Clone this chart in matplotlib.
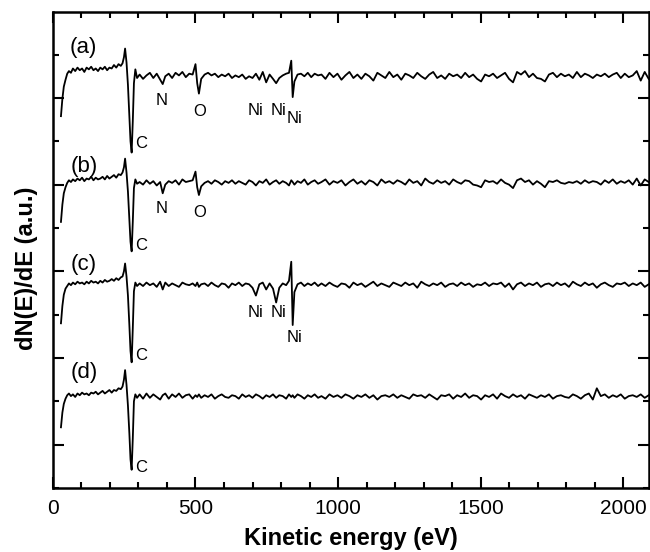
"""Auger spectra (dN/dE) of four samples, stacked."""

import matplotlib
matplotlib.use("Agg")
import matplotlib.pyplot as plt
from matplotlib.ticker import MultipleLocator

plt.rcParams["font.family"] = ["Liberation Sans", "DejaVu Sans"]

# kinetic energy grid (eV)
energy = [
    28, 33, 38, 44, 50, 56, 63, 70, 78, 86,
    94, 102, 110, 118, 126, 134, 142, 150, 158, 166,
    174, 182, 190, 198, 206, 214, 222, 230, 238, 244,
    249, 253, 258, 263, 268, 272, 276, 280, 284, 289,
    295,
    304, 316, 328, 340, 352, 364, 376, 385, 394, 406,
    418, 430, 442, 454, 466, 478, 490, 500, 506, 512,
    520, 532, 544, 556, 568, 580, 592, 604, 616, 628,
    640, 652, 664, 676, 688, 700, 712, 724, 736, 748,
    760, 772, 783, 794, 806, 818, 828, 836, 841, 847,
    858, 870, 882, 894, 906, 918, 930,
    942, 956, 970, 984, 998, 1012, 1026, 1040, 1054, 1068,
    1082, 1096, 1110, 1124, 1138, 1152, 1166, 1180, 1194, 1208,
    1222, 1236, 1250, 1264, 1278, 1292, 1306, 1320, 1334, 1348,
    1362, 1376, 1390, 1404, 1418, 1432, 1446, 1460, 1474, 1488,
    1502, 1516, 1530, 1544, 1558, 1572, 1586, 1600, 1614, 1628,
    1642, 1656, 1670, 1684, 1698, 1712, 1726, 1740, 1754, 1768,
    1782, 1796, 1810, 1824, 1838, 1852, 1866, 1880, 1894, 1908,
    1922, 1936, 1950, 1964, 1978, 1992, 2006, 2020, 2034, 2048,
    2062, 2076, 2090,
]

# each trace relative to its own background level
trace_a = [
    -0.46, -0.26, -0.12, -0.04, 0.03, 0.06, 0.04, 0.09, 0.06, 0.10,
    0.07, 0.09, 0.05, 0.10, 0.08, 0.11, 0.07, 0.09, 0.06, 0.10,
    0.08, 0.11, 0.07, 0.10, 0.09, 0.13, 0.10, 0.14, 0.12, 0.15,
    0.22, 0.32, 0.16, -0.10, -0.45, -0.75, -0.88, -0.52, -0.08, 0.08,
    -0.02,
    0.02, -0.03, 0.01, 0.04, -0.02, 0.03, -0.04, -0.09, 0.00, 0.03,
    -0.02, 0.04, 0.01, 0.05, -0.01, 0.03, 0.02, 0.14, -0.08, -0.20,
    -0.03, 0.02, 0.04, 0.01, 0.03, -0.01, 0.02, 0.00, 0.03, -0.02,
    0.01, -0.01, 0.02, -0.03, 0.00, -0.02, 0.03, -0.04, 0.05, -0.07,
    0.02, -0.03, -0.08, -0.02, 0.01, 0.03, 0.04, 0.18, -0.24, -0.06,
    0.02, 0.03, 0.00, 0.04, -0.01, 0.03, 0.01,
    0.02, -0.03, 0.04, -0.01, 0.03, -0.04, 0.01, 0.05, -0.02, 0.02,
    -0.03, 0.03, 0.00, -0.05, 0.04, 0.01, -0.02, 0.05, -0.01, 0.02,
    -0.04, 0.03, 0.01, -0.02, 0.04, 0.00, -0.03, 0.02, 0.05, -0.02,
    0.01, -0.03, 0.03, 0.00, 0.02, -0.02, 0.04, -0.01, 0.02, -0.03,
    -0.06, 0.02, 0.00, 0.03, -0.02, 0.01, 0.04, -0.03, -0.07, 0.05,
    0.02, 0.06, -0.01, 0.03, -0.02, -0.03, -0.06, 0.02, 0.04, -0.01,
    0.03, 0.00, 0.02, -0.02, 0.05, -0.01, 0.03, 0.01, -0.02, 0.02,
    0.00, 0.03, -0.01, 0.02, 0.04, -0.02, 0.03, -0.01, 0.01, 0.06,
    -0.05, 0.05, -0.03,
]

trace_b = [
    -0.45, -0.25, -0.12, -0.05, 0.00, 0.03, 0.01, 0.04, 0.02, 0.05,
    0.03, 0.06, 0.02, 0.05, 0.04, 0.07, 0.03, 0.06, 0.04, 0.05,
    0.07, 0.04, 0.08, 0.05, 0.07, 0.09, 0.06, 0.10, 0.09, 0.12,
    0.18, 0.28, 0.12, -0.10, -0.42, -0.68, -0.79, -0.45, -0.06, 0.04,
    -0.01,
    0.01, -0.02, 0.03, -0.01, 0.02, -0.03, 0.01, -0.12, -0.02, 0.02,
    0.00, 0.03, -0.02, 0.04, 0.01, 0.02, 0.03, 0.13, -0.05, -0.14,
    -0.04, 0.00, 0.02, -0.01, 0.03, 0.01, -0.02, 0.02, 0.00, 0.03,
    -0.01, 0.02, 0.00, -0.02, 0.03, 0.01, -0.03, 0.02, 0.00, 0.04,
    -0.02, 0.01, 0.03, -0.01, 0.02, 0.00, -0.03, 0.03, 0.01, -0.02,
    0.02, 0.00, 0.04, -0.02, 0.01, 0.03, -0.01,
    0.01, 0.04, -0.02, 0.02, 0.00, 0.03, -0.03, 0.01, 0.04, -0.01,
    0.02, -0.02, 0.03, 0.01, -0.03, 0.04, 0.00, 0.02, -0.01, 0.03,
    0.01, -0.02, 0.04, 0.00, 0.02, -0.03, 0.05, 0.01, -0.01, 0.03,
    0.00, 0.02, -0.02, 0.04, 0.01, -0.01, 0.03, 0.02, -0.02, -0.03,
    -0.05, 0.03, 0.01, 0.02, -0.01, 0.04, 0.00, -0.02, -0.06, 0.03,
    0.05, 0.01, 0.03, -0.02, 0.02, -0.01, -0.05, 0.02, 0.01, 0.03,
    0.00, -0.01, 0.01, 0.00, 0.02, -0.01, 0.03, 0.00, 0.02, 0.01,
    -0.02, 0.03, 0.00, 0.04, -0.01, 0.02, 0.00, 0.03, -0.02, 0.05,
    -0.03, 0.04, 0.01,
]

trace_c = [
    -0.44, -0.24, -0.11, -0.04, -0.01, 0.02, 0.00, 0.03, 0.01, 0.04,
    0.02, 0.03, 0.01, 0.04, 0.02, 0.05, 0.03, 0.04, 0.02, 0.05,
    0.03, 0.06, 0.04, 0.05, 0.07, 0.05, 0.08, 0.06, 0.09, 0.10,
    0.16, 0.25, 0.10, -0.12, -0.46, -0.76, -0.89, -0.50, -0.07, 0.03,
    -0.01,
    0.02, -0.01, 0.03, 0.00, 0.02, -0.02, 0.04, -0.05, 0.03, -0.01,
    0.02, 0.00, -0.02, 0.03, 0.01, 0.00, 0.02, -0.01, 0.03, -0.02,
    0.01, 0.02, -0.01, 0.03, 0.00, -0.02, 0.02, 0.01, -0.03, 0.02,
    0.00, 0.03, -0.01, 0.02, 0.01, -0.03, -0.12, 0.01, 0.03, -0.05,
    0.02, -0.04, -0.20, -0.03, 0.02, 0.00, 0.05, 0.27, -0.46, -0.08,
    0.01, 0.03, -0.01, 0.02, 0.00, 0.03, -0.01,
    0.02, -0.01, 0.03, 0.00, -0.02, 0.02, 0.01, -0.03, 0.03, 0.00,
    0.02, -0.02, 0.01, 0.04, -0.01, 0.02, 0.00, -0.02, 0.03, 0.01,
    -0.01, 0.03, 0.00, 0.02, -0.03, 0.04, 0.01, -0.01, 0.02, 0.00,
    0.03, -0.02, 0.01, 0.02, -0.01, 0.03, 0.00, 0.02, -0.02, 0.01,
    0.00, 0.03, -0.01, 0.02, 0.01, 0.03, -0.02, 0.02, -0.05, 0.01,
    0.03, -0.01, 0.02, 0.00, 0.03, -0.02, 0.01, 0.02, -0.01, 0.03,
    0.00, 0.02, -0.02, 0.04, 0.01, -0.01, 0.03, 0.00, 0.02, -0.03,
    0.01, 0.03, 0.00, -0.02, 0.02, 0.01, 0.03, -0.01, 0.02, 0.00,
    0.03, -0.02, 0.01,
]

trace_d = [
    -0.35, -0.18, -0.08, -0.02, 0.02, 0.04, 0.01, 0.03, 0.00, 0.04,
    0.02, 0.05, 0.03, 0.04, 0.02, 0.05, 0.04, 0.06, 0.03, 0.05,
    0.07, 0.04, 0.06, 0.08, 0.05, 0.08, 0.07, 0.10, 0.09, 0.12,
    0.20, 0.31, 0.14, -0.10, -0.42, -0.72, -0.84, -0.48, -0.05, 0.03,
    -0.01,
    0.03, -0.02, 0.04, -0.01, 0.03, 0.00, -0.03, 0.02, 0.04, -0.02,
    0.03, 0.00, 0.04, -0.01, 0.02, 0.03, -0.02, 0.02, 0.00, 0.03,
    -0.01, 0.02, 0.00, 0.03, -0.02, 0.01, 0.03, 0.00, -0.01, 0.02,
    0.01, -0.02, 0.03, 0.00, 0.02, -0.01, 0.03, 0.01, -0.02, 0.02,
    0.00, 0.03, -0.01, 0.02, 0.01, -0.02, 0.03, 0.00, 0.02, -0.01,
    0.03, 0.01, -0.02, 0.02, 0.00, 0.03, -0.01,
    0.01, -0.02, 0.03, 0.00, 0.02, -0.01, 0.03, 0.01, -0.02, 0.02,
    0.00, 0.03, -0.01, 0.02, -0.03, 0.01, 0.02, 0.00, 0.03, -0.01,
    0.02, 0.00, -0.02, 0.03, 0.01, 0.02, -0.01, 0.03, 0.00, -0.03,
    0.02, 0.01, 0.03, -0.02, 0.02, 0.00, 0.04, -0.01, 0.02, 0.01,
    -0.03, 0.02, 0.00, 0.03, -0.02, 0.04, 0.01, -0.01, 0.03, 0.00,
    0.02, -0.02, 0.03, 0.01, -0.01, 0.02, 0.00, 0.03, -0.02, 0.01,
    0.02, 0.00, -0.01, 0.03, 0.01, -0.02, 0.02, 0.04, -0.03, 0.10,
    0.01, 0.03, -0.01, 0.02, 0.00, 0.03, -0.02, 0.01, 0.02, 0.00,
    0.03, -0.01, 0.02,
]

traces = [trace_a, trace_b, trace_c, trace_d]
offsets = [4.75, 3.52, 2.34, 1.05]
panel_labels = ["(a)", "(b)", "(c)", "(d)"]
panel_label_y = [5.08, 3.71, 2.58, 1.33]

# peak labels: (text, energy, level)
peak_labels = [
    ("C", 311, 3.98), ("N", 381, 4.47), ("O", 514, 4.34),
    ("Ni", 710, 4.36), ("Ni", 790, 4.36), ("Ni", 846, 4.26),
    ("C", 311, 2.80), ("N", 381, 3.23), ("O", 514, 3.18),
    ("Ni", 710, 2.02), ("Ni", 790, 2.02), ("Ni", 846, 1.74), ("C", 311, 1.53),
    ("C", 311, 0.24),
]

fig = plt.figure(figsize=(6.5, 5.52), dpi=100)
ax = fig.add_axes([0.0815, 0.116, 0.9165, 0.862])

for tr, off in zip(traces, offsets):
    ax.plot(energy, [v + off for v in tr], color="black", lw=1.3)

for lab, yy in zip(panel_labels, panel_label_y):
    ax.text(108, yy, lab, fontsize=16, ha="center", va="center")

for txt, ex, yy in peak_labels:
    ax.text(ex, yy, txt, fontsize=12, ha="center", va="center")

ax.set_xlim(0, 2090)
ax.set_ylim(0, 5.49)
ax.xaxis.set_major_locator(MultipleLocator(500))
ax.xaxis.set_minor_locator(MultipleLocator(100))
ax.set_yticks([0.5, 1.5, 2.5, 3.5, 4.5])
ax.yaxis.set_minor_locator(MultipleLocator(0.5))
ax.set_yticklabels([])
ax.tick_params(which="both", direction="in", top=True, right=True, width=1.5)
ax.tick_params(which="major", length=8, labelsize=15, pad=8)
ax.tick_params(which="minor", length=4)
for sp in ax.spines.values():
    sp.set_linewidth(1.8)

ax.set_xlabel("Kinetic energy (eV)", fontsize=17, fontweight="bold")
ax.set_ylabel("dN(E)/dE (a.u.)", fontsize=17, fontweight="bold")
ax.xaxis.set_label_coords(0.5, -0.082)
ax.yaxis.set_label_coords(-0.025, 0.462)

fig.savefig("out.png", dpi=100)
